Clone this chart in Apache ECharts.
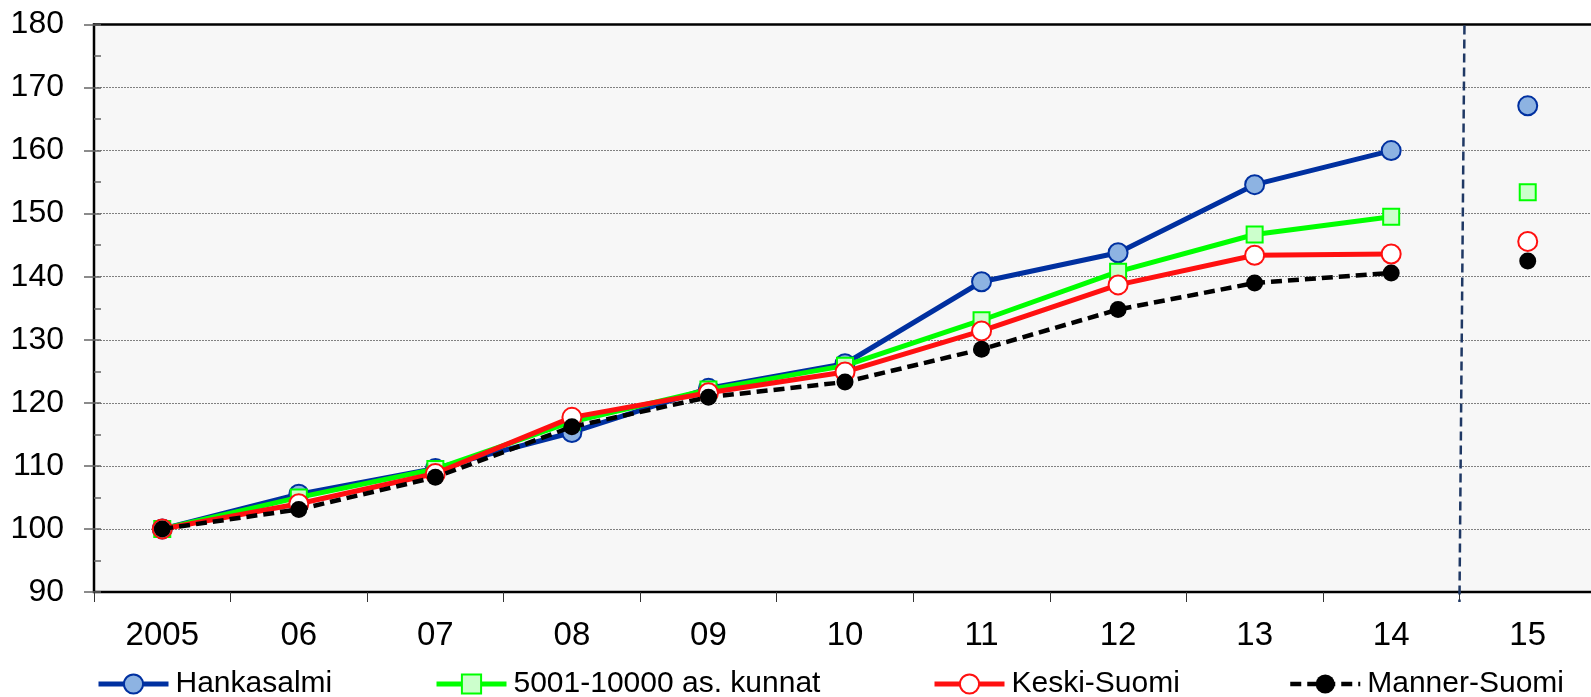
<!DOCTYPE html>
<html>
<head>
<meta charset="utf-8">
<script src="https://cdn.jsdelivr.net/npm/echarts@6/dist/echarts.min.js"></script>
<style>
html,body{margin:0;padding:0;background:#fff;}
#chart{width:1591px;height:697px;}
</style>
</head>
<body>
<div id="chart"></div>
<script>
const categories = ['2005','06','07','08','09','10','11','12','13','14','15'];
const yTicks = { min: 90, max: 180, interval: 10 };

const seriesNames = ['Hankasalmi', '5001-10000 as. kunnat', 'Keski-Suomi', 'Manner-Suomi'];
// 2005 - 14 (connected line)
const hankasalmi  = [100, 105.5, 109.6, 115.3, 122.3, 126.2, 139.2, 143.8, 154.6, 160.0];
const kunnat      = [100, 105.0, 109.5, 117.0, 122.1, 125.9, 133.1, 140.8, 146.7, 149.5];
const keskiSuomi  = [100, 104.0, 108.8, 117.7, 121.6, 124.9, 131.4, 138.7, 143.4, 143.6];
const mannerSuomi = [100, 103.1, 108.2, 116.2, 120.9, 123.3, 128.5, 134.8, 139.0, 140.6];
// 15 (separate point)
const hankasalmi15  = 167.1;
const kunnat15      = 153.4;
const keskiSuomi15  = 145.6;
const mannerSuomi15 = 142.5;

const FONT = "'Liberation Sans', Arial, sans-serif";

const styles = [
  { line: '#0030A0', width: 5, type: 'solid', symbol: 'circle', size: 19, fill: '#8DB3E2', border: '#0030A0', bw: 2 },
  { line: '#00FF00', width: 5, type: 'solid', symbol: 'rect', size: 16, fill: '#CCFFCC', border: '#00FF00', bw: 2 },
  { line: '#FF1010', width: 5, type: 'solid', symbol: 'circle', size: 19, fill: '#FFFFFF', border: '#FF1010', bw: 2 },
  { line: '#000000', width: 4.5, type: [11, 6], symbol: 'circle', size: 17, fill: '#000000', border: '#000000', bw: 0 }
];
const mainData = [hankasalmi, kunnat, keskiSuomi, mannerSuomi];
const lastData = [hankasalmi15, kunnat15, keskiSuomi15, mannerSuomi15];

const series = [];
mainData.forEach((d, i) => {
  const s = styles[i];
  series.push({
    name: seriesNames[i],
    type: 'line',
    data: d,
    symbol: s.symbol,
    symbolSize: s.size,
    showAllSymbol: true,
    lineStyle: { color: s.line, width: s.width, type: s.type },
    itemStyle: { color: s.fill, borderColor: s.border, borderWidth: s.bw },
    z: 2 + i,
    animation: false
  });
});
lastData.forEach((v, i) => {
  const s = styles[i];
  const arr = categories.map((c, k) => (k === categories.length - 1 ? v : null));
  series.push({
    name: seriesNames[i] + ' 15',
    type: 'line',
    data: arr,
    symbol: s.symbol,
    symbolSize: s.size,
    lineStyle: { width: 0 },
    itemStyle: { color: s.fill, borderColor: s.border, borderWidth: s.bw },
    z: 2 + i,
    animation: false
  });
});

const legendLefts = [96, 434, 932, 1288];
const legends = seriesNames.map((n, i) => ({
  data: [n],
  left: legendLefts[i],
  top: 669,
  padding: 0,
  itemWidth: 70,
  itemHeight: 24,
  itemGap: 0,
  lineStyle: { color: styles[i].line, width: styles[i].width, type: styles[i].type },
  itemStyle: { color: styles[i].fill, borderColor: styles[i].border, borderWidth: styles[i].bw },
  textStyle: { fontFamily: FONT, fontSize: 30, color: '#000', padding: [0, 0, 0, 2] },
  selectedMode: false
}));

const chart = echarts.init(document.getElementById('chart'), null, { renderer: 'canvas' });
chart.setOption({
  animation: false,
  backgroundColor: '#ffffff',
  grid: {
    left: 94, top: 24.5, width: 1502, bottom: 105,
    outerBoundsMode: 'none', containLabel: false,
    show: true, backgroundColor: '#F7F7F7', borderColor: '#000', borderWidth: 2.5
  },
  legend: legends,
  xAxis: {
    type: 'category',
    data: categories,
    boundaryGap: true,
    axisLine: { lineStyle: { color: '#000', width: 2 } },
    axisTick: { show: true, length: 10, alignWithLabel: false, lineStyle: { color: '#333', width: 1 } },
    axisLabel: { fontFamily: FONT, fontSize: 33, color: '#000', margin: 27 },
    splitLine: { show: false }
  },
  yAxis: [{
    type: 'value',
    min: yTicks.min, max: yTicks.max, interval: yTicks.interval,
    axisLine: { show: true, lineStyle: { color: '#000', width: 2 } },
    axisTick: { show: true, length: 10, lineStyle: { color: '#666', width: 1.5 } },
    axisLabel: { fontFamily: FONT, fontSize: 32, color: '#000', margin: 30 },
    splitLine: { show: true, showMinLine: false, showMaxLine: false, lineStyle: { color: '#808080', width: 1, type: [2, 1] } }
  }, {
    type: 'value',
    position: 'left',
    min: yTicks.min, max: yTicks.max, interval: yTicks.interval / 2,
    axisLine: { show: false },
    axisTick: { show: true, inside: true, length: 7, lineStyle: { color: '#666', width: 1.5 } },
    axisLabel: { show: false },
    splitLine: { show: false }
  }],
  series: series
});

// vertical dashed separator between 14 and 15, placed via the axis scale
const x14 = chart.convertToPixel({ xAxisIndex: 0 }, '14');
const x15 = chart.convertToPixel({ xAxisIndex: 0 }, '15');
const yTop = chart.convertToPixel({ yAxisIndex: 0 }, yTicks.max);
const yBot = chart.convertToPixel({ yAxisIndex: 0 }, yTicks.min);
const mid = (x14 + x15) / 2;
chart.setOption({
  graphic: [{
    type: 'line',
    shape: { x1: mid + 5, y1: yTop + 1, x2: mid, y2: yBot + 10 },
    style: { stroke: '#1F3864', lineWidth: 2.5, lineDash: [9, 5] },
    z: 10
  }]
});
</script>
</body>
</html>
